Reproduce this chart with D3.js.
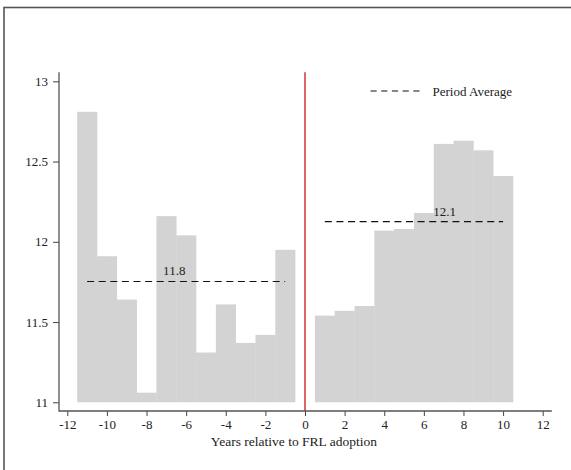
<!DOCTYPE html>
<html>
<head>
<meta charset="utf-8">
<script src="https://cdn.jsdelivr.net/npm/d3@7/dist/d3.min.js"></script>
<style>
  html, body { margin: 0; padding: 0; background: #fff; }
  svg { display: block; font-family: "Liberation Serif", "DejaVu Serif", serif; }
</style>
</head>
<body>
<script>
// ---- data ----
const preYears = [-11, -10, -9, -8, -7, -6, -5, -4, -3, -2, -1];
const preValues = [12.81, 11.91, 11.64, 11.06, 12.16, 12.04, 11.31, 11.61, 11.37, 11.42, 11.95];
const postYears = [1, 2, 3, 4, 5, 6, 7, 8, 9, 10];
const postValues = [11.54, 11.57, 11.60, 12.07, 12.08, 12.18, 12.61, 12.63, 12.57, 12.41];
const averageLabels = ["11.8", "12.1"];
const averageLabelX = [-6.6, 7.05];
const xTicks = [-12, -10, -8, -6, -4, -2, 0, 2, 4, 6, 8, 10, 12];
const yTicks = [11, 11.5, 12, 12.5, 13];
const yTickLabels = ["11", "11.5", "12", "12.5", "13"];
const legendLabel = "Period Average";
const xTitle = "Years relative to FRL adoption";

const W = 571, H = 470;
const svg = d3.select("body").append("svg").attr("width", W).attr("height", H);

// outer frame (extends beyond the visible area)
svg.append("rect").attr("x", 4).attr("y", 7.5).attr("width", 700).attr("height", 600)
  .attr("fill", "none").attr("stroke", "#555").attr("stroke-width", 1.6);

const x = d3.scaleLinear().domain([-12, 12]).range([67.3, 542.7]);
const y = d3.scaleLinear().domain([11, 13]).range([402.3, 81.3]);
const bw = x(1) - x(0);
const axisY = 411, axisX = 59;

const pre = preYears.map((d, i) => ({ year: d, value: preValues[i] }));
const post = postYears.map((d, i) => ({ year: d, value: postValues[i] }));

// bars
const bars = svg.append("g");
bars.selectAll("rect.pre").data(pre).join("rect")
  .attr("x", d => x(d.year) - bw / 2).attr("width", bw + 0.3)
  .attr("y", d => y(d.value)).attr("height", d => y(11) - y(d.value))
  .attr("fill", "#d3d3d3");
bars.selectAll("rect.post").data(post).join("rect")
  .attr("x", d => x(d.year) - bw / 2).attr("width", bw + 0.3)
  .attr("y", d => y(d.value)).attr("height", d => y(11) - y(d.value))
  .attr("fill", "#d3d3d3");

// averages
const groups = [pre, post];
groups.forEach((g, i) => {
  const m = d3.mean(g, d => d.value);
  const ext = d3.extent(g, d => d.year);
  svg.append("line")
    .attr("x1", x(ext[0])).attr("x2", x(ext[1]))
    .attr("y1", y(m)).attr("y2", y(m))
    .attr("stroke", "#111").attr("stroke-width", 1.2)
    .attr("stroke-dasharray", "7,4.6");
  svg.append("text")
    .attr("x", x(averageLabelX[i])).attr("y", y(m) - 6)
    .attr("text-anchor", "middle").attr("font-size", 13).attr("fill", "#222")
    .text(averageLabels[i]);
});

// red line at 0
svg.append("line")
  .attr("x1", x(0)).attr("x2", x(0))
  .attr("y1", y(13.057)).attr("y2", axisY)
  .attr("stroke", "#cc0000").attr("stroke-width", 1.2);

// y axis
const gy = svg.append("g").attr("transform", `translate(${axisX},0)`)
  .call(d3.axisLeft(y).tickValues(yTicks).tickFormat((d, i) => yTickLabels[i]).tickSize(6).tickPadding(5));
gy.select(".domain").remove();
gy.selectAll(".tick line").attr("stroke", "#444");
gy.selectAll(".tick text").attr("font-size", 13).attr("font-family", "Liberation Serif").attr("fill", "#222");
svg.append("line").attr("x1", axisX).attr("x2", axisX)
  .attr("y1", y(13.057)).attr("y2", axisY + 0.5)
  .attr("stroke", "#555").attr("stroke-width", 1.3);

// x axis
const gx = svg.append("g").attr("transform", `translate(0,${axisY})`)
  .call(d3.axisBottom(x).tickValues(xTicks).tickFormat(d => String(d).replace("−", "-")).tickSize(5).tickPadding(4));
gx.select(".domain").remove();
gx.selectAll(".tick line").attr("stroke", "#444");
gx.selectAll(".tick text").attr("font-size", 13).attr("font-family", "Liberation Serif").attr("fill", "#222");
svg.append("line").attr("x1", axisX).attr("x2", x(12.46))
  .attr("y1", axisY).attr("y2", axisY)
  .attr("stroke", "#555").attr("stroke-width", 1.3);

// x title
svg.append("text").attr("x", (axisX + x(12.46)) / 2 - 11.5).attr("y", 446)
  .attr("text-anchor", "middle").attr("font-size", 13.5).attr("fill", "#222")
  .text(xTitle);

// legend
svg.append("line").attr("x1", 370.5).attr("x2", 419.5).attr("y1", 91).attr("y2", 91)
  .attr("stroke", "#111").attr("stroke-width", 1.2).attr("stroke-dasharray", "6.2,4.5");
svg.append("text").attr("x", 432.5).attr("y", 96)
  .attr("font-size", 13).attr("fill", "#222").text(legendLabel);
</script>
</body>
</html>
